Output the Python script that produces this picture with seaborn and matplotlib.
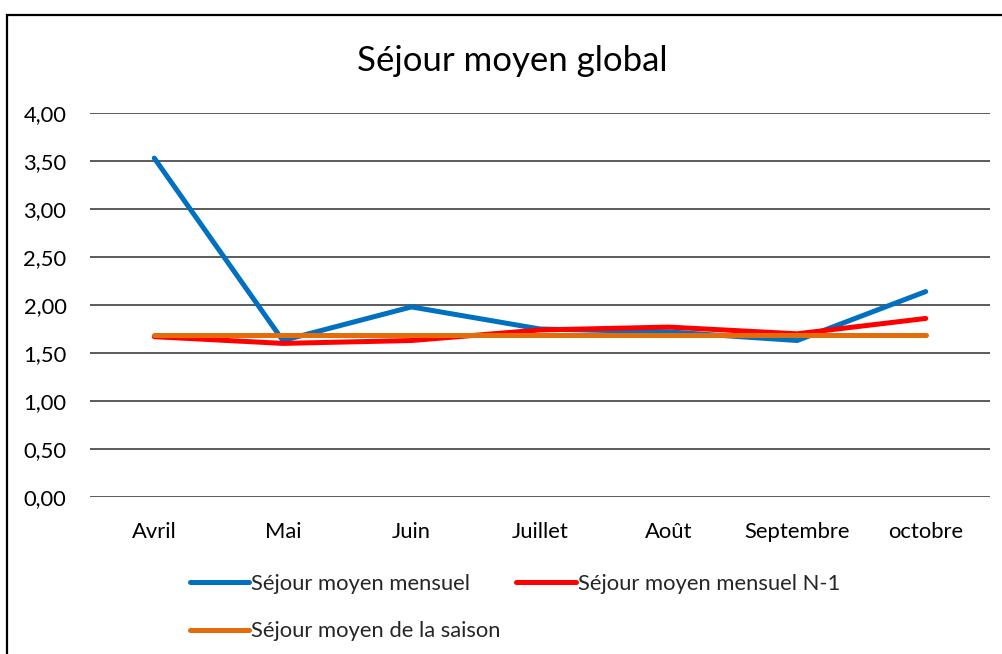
import matplotlib
matplotlib.use("Agg")
import matplotlib.pyplot as plt
import seaborn as sns
import pandas as pd
from matplotlib.patches import Rectangle
from matplotlib.ticker import FuncFormatter

months = ["Avril", "Mai", "Juin", "Juillet", "Août", "Septembre", "octobre"]
sejour_mensuel = [3.53, 1.63, 1.98, 1.75, 1.72, 1.63, 2.14]
sejour_mensuel_n1 = [1.67, 1.60, 1.63, 1.74, 1.77, 1.70, 1.86]
sejour_saison = [1.69, 1.69, 1.69, 1.69, 1.69, 1.69, 1.69]
series_names = ["Séjour moyen mensuel", "Séjour moyen mensuel N-1", "Séjour moyen de la saison"]
yticks = [0, 0.5, 1.0, 1.5, 2.0, 2.5, 3.0, 3.5, 4.0]
title = "Séjour moyen global"

sns.set_theme(style="white")
plt.rcParams['font.family'] = ['Lato', 'DejaVu Sans']

rows = []
for name, vals in zip(series_names, [sejour_mensuel, sejour_mensuel_n1, sejour_saison]):
    for i, (m, v) in enumerate(zip(months, vals)):
        rows.append({"idx": i, "mois": m, "valeur": v, "serie": name})
df = pd.DataFrame(rows)

colors = {series_names[0]: "#0070C0", series_names[1]: "#FF0000", series_names[2]: "#E46C0A"}

fig = plt.figure(figsize=(10.03, 6.54), dpi=100)
ax = fig.add_axes([90/1003, 1-497/654, 900/1003, (497-113)/654])

sns.lineplot(data=df, x="idx", y="valeur", hue="serie", hue_order=series_names,
             palette=colors, sort=False, linewidth=3.6, ax=ax, legend=False)
for ln in ax.get_lines():
    ln.set_solid_capstyle("round")
    ln.set_solid_joinstyle("round")

ax.set_xlim(-0.5, len(months) - 0.5)
ax.set_ylim(0, 4.0)
ax.set_xticks(range(len(months)))
ax.set_xticklabels(months)
ax.set_yticks(yticks)
ax.yaxis.set_major_formatter(FuncFormatter(lambda v, p: f"{v:.2f}".replace(".", ",")))
ax.tick_params(axis="both", length=0, labelsize=15.8, colors="#000000")
ax.tick_params(axis="y", pad=17)
ax.tick_params(axis="x", pad=18)
ax.set_xlabel("")
ax.set_ylabel("")
for s in ax.spines.values():
    s.set_visible(False)
ax.grid(axis="y", color="#404040", linewidth=1.2)
ax.set_axisbelow(True)

fig.text(512/1003, 1-61/654, title, ha="center", va="center", fontsize=25, color="#000000")

lines = ax.get_lines()
handles = [lines[0], lines[2], lines[1]]
labels = [series_names[0], series_names[2], series_names[1]]
leg = fig.legend(handles, labels, ncol=2, loc="upper left",
                 bbox_to_anchor=(190/1003, 1-574/654), frameon=False,
                 fontsize=15.8, handlelength=2.7, handletextpad=0.1,
                 columnspacing=0.7, labelspacing=1.25, borderaxespad=0, borderpad=0)
for h in leg.legend_handles:
    h.set_linewidth(3.6)
    h.set_solid_capstyle("round")

fig.patches.append(Rectangle((7/1003, -0.1), 1.2, 1 - 15/654 + 0.1, transform=fig.transFigure,
                             fill=False, edgecolor="#000000", linewidth=1.6, zorder=10))

fig.savefig("out.png", dpi=100, facecolor="white")
